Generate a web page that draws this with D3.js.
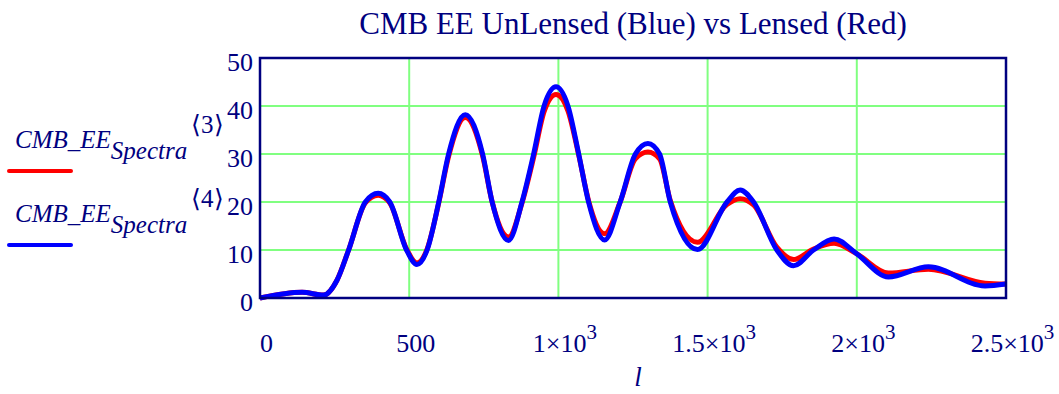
<!DOCTYPE html>
<html>
<head>
<meta charset="utf-8">
<script src="https://cdn.jsdelivr.net/npm/d3@7"></script>
<style>
  body { margin: 0; background: #fff; }
  text { font-family: "Liberation Serif", "Times New Roman", serif; fill: #000080; }
</style>
</head>
<body>
<svg id="chart" width="1059" height="394"></svg>
<script>
// multipole l and the two EE spectra
const ELL = [0, 141, 213, 258, 297, 353, 396, 435, 491, 526, 560, 599, 632, 688, 746, 778, 833,
    878, 917, 952, 992, 1032, 1068, 1101, 1155, 1207, 1258, 1300, 1339, 1375, 1466, 1565, 1609,
    1654, 1732, 1788, 1855, 1924, 1998, 2106, 2240, 2430, 2500];
const UNLENSED = [0, 1.2, 0.6, 3.7, 10, 20, 21.8, 20, 10, 7.0, 10, 20, 30, 38.2, 30, 20, 12.0,
    20, 30, 40, 44.0, 40, 30, 20, 12.1, 20, 30, 32.2, 30, 20, 10.1, 20, 22.5,
    20, 10, 6.7, 10, 12.3, 9.3, 4.4, 6.5, 2.5, 2.9];
const LENSED = [0, 1.2, 0.6, 3.7, 10, 19.8, 21.4, 19.8, 10.2, 7.3, 10.2, 19.8, 29.5, 37.6, 29.6, 20, 12.7,
    19.8, 29.3, 38.8, 42.4, 39, 29.8, 20.3, 13.4, 20, 29, 30.4, 29, 20.3, 11.6, 19.5, 20.7,
    19.4, 10.6, 8.0, 10.2, 11.4, 9.3, 5.2, 6.0, 3.1, 2.9];

const Y_TICKS = [0, 10, 20, 30, 40, 50];
const X_TICKS = [0, 500, 1000, 1500, 2000, 2500];
const X_TICK_LABELS = [["0", ""], ["500", ""], ["1×10", "3"], ["1.5×10", "3"], ["2×10", "3"], ["2.5×10", "3"]];
const TITLE = "CMB EE UnLensed (Blue) vs Lensed (Red)";

const LEFT = 260, RIGHT = 1006, TOP = 58, BOTTOM = 298;
const NAVY = "#000080";
const GRID = "#80ff80";

const svg = d3.select("#chart");

const x = d3.scaleLinear().domain([0, 2500]).range([LEFT, RIGHT]);
const y = d3.scaleLinear().domain([0, 50]).range([BOTTOM, TOP]);

// grid lines
svg.append("g")
    .selectAll("line.vgrid")
    .data(X_TICKS.slice(1, -1))
    .enter().append("line")
    .attr("x1", (d) => x(d)).attr("x2", (d) => x(d))
    .attr("y1", TOP).attr("y2", BOTTOM)
    .attr("stroke", GRID).attr("stroke-width", 2);

svg.append("g")
    .selectAll("line.hgrid")
    .data(Y_TICKS.slice(1, -1))
    .enter().append("line")
    .attr("x1", LEFT).attr("x2", RIGHT)
    .attr("y1", (d) => y(d)).attr("y2", (d) => y(d))
    .attr("stroke", GRID).attr("stroke-width", 2);

// curves: lensed (red) under unlensed (blue)
const line = d3.line()
    .x((d) => x(d[0]))
    .y((d) => y(d[1]))
    .curve(d3.curveMonotoneX);

svg.append("path")
    .datum(ELL.map((l, i) => [l, LENSED[i]]))
    .attr("d", line)
    .attr("fill", "none")
    .attr("stroke", "#ff0000")
    .attr("stroke-width", 5);

svg.append("path")
    .datum(ELL.map((l, i) => [l, UNLENSED[i]]))
    .attr("d", line)
    .attr("fill", "none")
    .attr("stroke", "#0000ff")
    .attr("stroke-width", 5);

// frame
svg.append("rect")
    .attr("x", LEFT).attr("y", TOP)
    .attr("width", RIGHT - LEFT).attr("height", BOTTOM - TOP)
    .attr("fill", "none")
    .attr("stroke", NAVY)
    .attr("stroke-width", 2.5);

// y axis labels
const yAxis = svg.append("g")
    .attr("transform", `translate(${LEFT},0)`)
    .call(d3.axisLeft(y).tickValues(Y_TICKS).tickSize(0).tickPadding(7));
yAxis.select(".domain").remove();
yAxis.selectAll("text")
    .attr("fill", NAVY)
    .attr("dy", 12)
    .style("font-size", "26px")
    .style("font-family", "Liberation Serif");

// x axis labels, with superscripted exponents
const xAxis = svg.append("g")
    .attr("transform", `translate(0,${BOTTOM})`)
    .call(d3.axisBottom(x).tickValues(X_TICKS).tickSize(0));
xAxis.select(".domain").remove();
xAxis.selectAll("text")
    .attr("fill", NAVY)
    .attr("x", 6)
    .attr("y", 54)
    .attr("dy", 0)
    .style("font-size", "26px")
    .style("font-family", "Liberation Serif")
    .text(null)
    .each(function (d, i) {
        const t = d3.select(this);
        t.append("tspan").text(X_TICK_LABELS[i][0]);
        if (X_TICK_LABELS[i][1]) {
            t.append("tspan")
                .attr("dy", -13)
                .style("font-size", "21px")
                .text(X_TICK_LABELS[i][1]);
        }
    });

// title and axis label
svg.append("text")
    .attr("x", (LEFT + RIGHT) / 2)
    .attr("y", 34)
    .attr("text-anchor", "middle")
    .style("font-size", "31px")
    .text(TITLE);

svg.append("text")
    .attr("x", 638)
    .attr("y", 386)
    .attr("text-anchor", "middle")
    .style("font-size", "27px")
    .style("font-style", "italic")
    .text("l");

// legend
const legend = [
    { sup: "⟨3⟩", color: "#ff0000" },
    { sup: "⟨4⟩", color: "#0000ff" },
];
legend.forEach((entry, i) => {
    const g = svg.append("g").attr("transform", `translate(0,${i * 74})`);
    const t = g.append("text")
        .attr("x", 15)
        .attr("y", 148)
        .style("font-size", "25px")
        .style("font-style", "italic");
    t.append("tspan").text("CMB_EE");
    t.append("tspan").attr("dy", 11).text("Spectra");
    g.append("text")
        .attr("x", 191)
        .attr("y", 133)
        .style("font-size", "25px")
        .text(entry.sup);
    g.append("line")
        .attr("x1", 9).attr("x2", 71)
        .attr("y1", 171).attr("y2", 171)
        .attr("stroke", entry.color)
        .attr("stroke-width", 4)
        .attr("stroke-linecap", "round");
});
</script>
</body>
</html>
